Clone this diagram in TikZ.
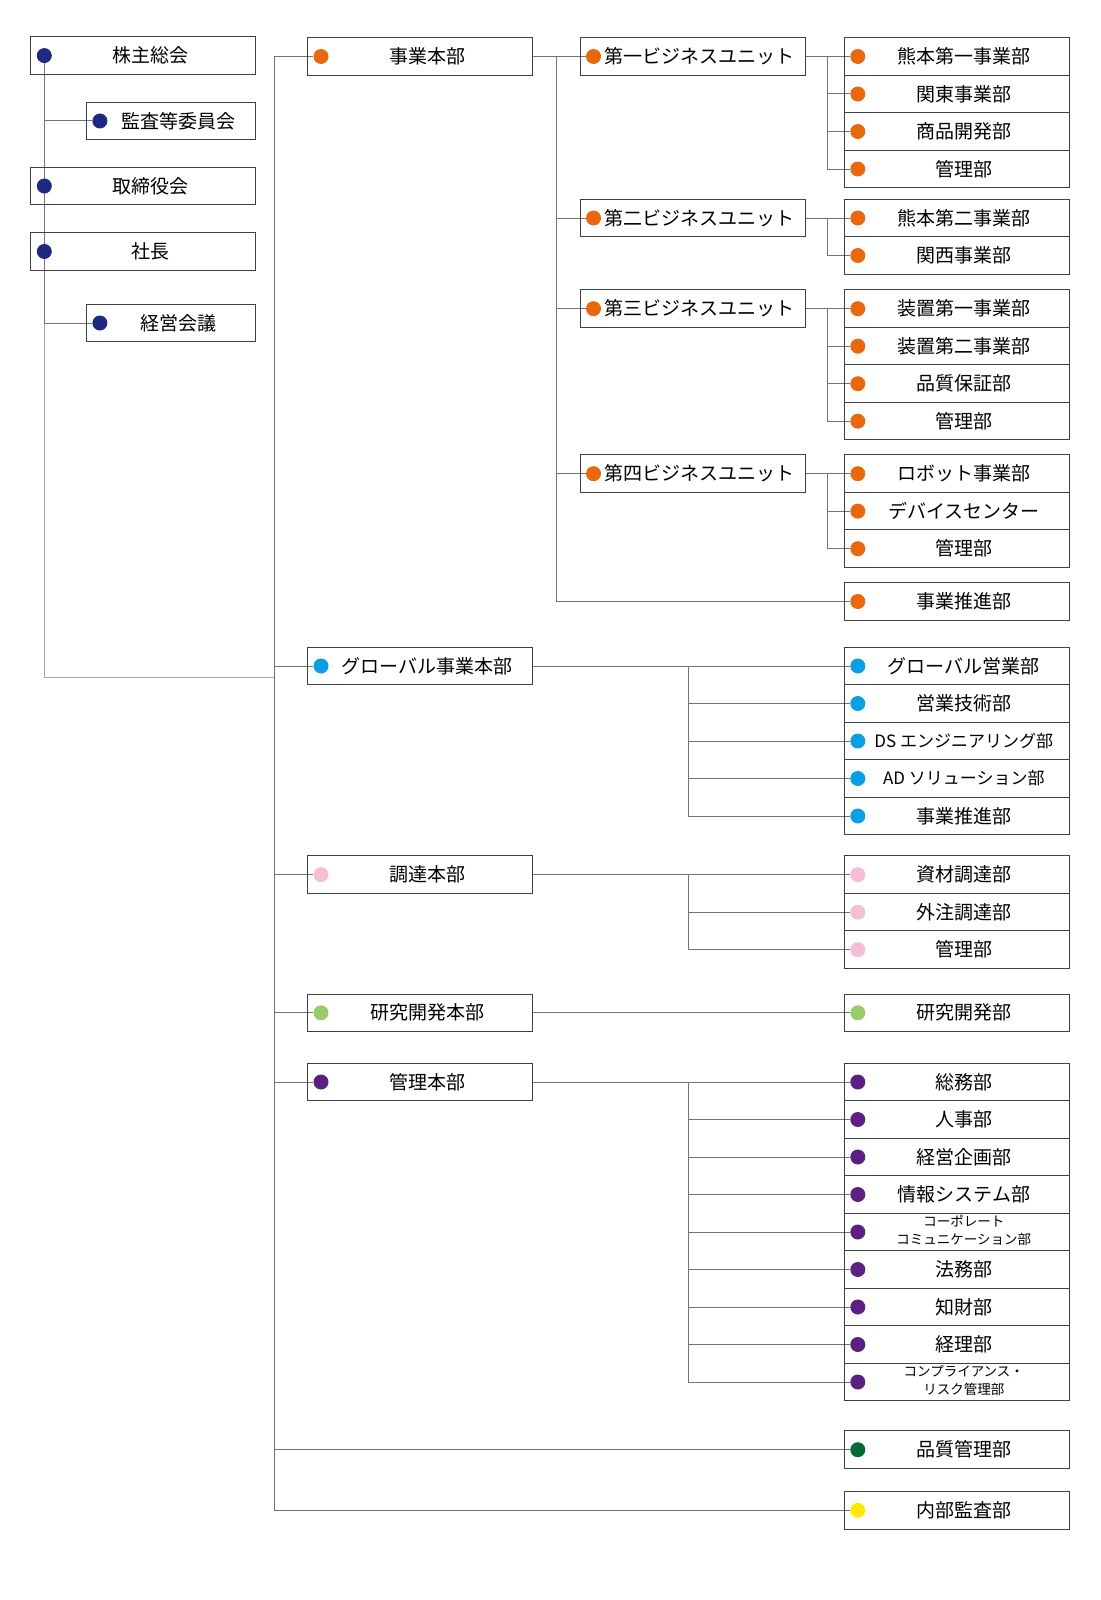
\documentclass[tikz,border=0pt]{standalone}
\usepackage{fontspec}
\setmainfont{Noto Sans CJK JP}
\usetikzlibrary{positioning, backgrounds}

\definecolor{navydot}{HTML}{1E2A82}
\definecolor{orangedot}{HTML}{E8690D}
\definecolor{bluedot}{HTML}{0A9FE2}
\definecolor{pinkdot}{HTML}{F6BDD6}
\definecolor{lightgreendot}{HTML}{9ACA6B}
\definecolor{purpledot}{HTML}{5C1F82}
\definecolor{darkgreendot}{HTML}{006B39}
\definecolor{yellowdot}{HTML}{FFE900}

\begin{document}
\begin{tikzpicture}[x = 1pt, y = -1pt,
  dept/.style = {draw = black!75, line width = 1pt, minimum width = 225pt, minimum height = 37.5pt,
    inner sep = 0pt, outer sep = 0pt, font = \fontsize{19}{22}\selectfont, execute at begin node = {\hspace*{14pt}}},
  smalldept/.style = {dept, minimum width = 169pt},
  spot/.style = {circle, inner sep = 0pt, minimum size = 15pt},
  wire/.style = {draw = black!55, line width = 1pt}]

\useasboundingbox (0, 0) rectangle (1100, 1600);

% left column
\node [dept] (kabu) at (143.3, 55.6) {株主総会};
\node [spot, fill = navydot] (kabud) at ([xshift = 13.5pt]kabu.west) {};
\node [smalldept] (kansa) at (171.4, 121) {監査等委員会};
\node [spot, fill = navydot] (kansad) at ([xshift = 13pt]kansa.west) {};
\node [dept] (torishimari) at (143.3, 186) {取締役会};
\node [spot, fill = navydot] (torishimarid) at ([xshift = 13.5pt]torishimari.west) {};
\node [dept] (shacho) at (143.3, 251.5) {社長};
\node [spot, fill = navydot] (shachod) at ([xshift = 13.5pt]shacho.west) {};
\node [smalldept] (keiei) at (171.4, 323) {経営会議};
\node [spot, fill = navydot] (keieid) at ([xshift = 13pt]keiei.west) {};

% headquarters
\node [dept] (jigyo) at (420, 56.5) {事業本部};
\node [spot, fill = orangedot] (jigyod) at ([xshift = 13.5pt]jigyo.west) {};
\node [dept] (global) at (420, 666) {グローバル事業本部};
\node [spot, fill = bluedot] (globald) at ([xshift = 13.5pt]global.west) {};
\node [dept] (chotatsu) at (420, 874.7) {調達本部};
\node [spot, fill = pinkdot] (chotatsud) at ([xshift = 13.5pt]chotatsu.west) {};
\node [dept] (kaihatsu) at (420, 1012.8) {研究開発本部};
\node [spot, fill = lightgreendot] (kaihatsud) at ([xshift = 13.5pt]kaihatsu.west) {};
\node [dept] (kanrihq) at (420, 1082) {管理本部};
\node [spot, fill = purpledot] (kanrihqd) at ([xshift = 13.5pt]kanrihq.west) {};

% business units
\node [dept] (bu1) at (692.5, 56.5) {第一ビジネスユニット};
\node [spot, fill = orangedot] (bu1d) at ([xshift = 13.5pt]bu1.west) {};
\node [dept] (bu2) at (692.5, 218) {第二ビジネスユニット};
\node [spot, fill = orangedot] (bu2d) at ([xshift = 13.5pt]bu2.west) {};
\node [dept] (bu3) at (692.5, 308.7) {第三ビジネスユニット};
\node [spot, fill = orangedot] (bu3d) at ([xshift = 13.5pt]bu3.west) {};
\node [dept] (bu4) at (692.5, 473.7) {第四ビジネスユニット};
\node [spot, fill = orangedot] (bu4d) at ([xshift = 13.5pt]bu4.west) {};

% right column
\node [dept] (kuma1) at (956.8, 56.5) {熊本第一事業部};
\node [dept, below = 0pt of kuma1] (kanto) {関東事業部};
\node [dept, below = 0pt of kanto] (shohin) {商品開発部};
\node [dept, below = 0pt of shohin] (kanri1) {管理部};
\node [dept] (kuma2) at (956.8, 218) {熊本第二事業部};
\node [dept, below = 0pt of kuma2] (kansai) {関西事業部};
\node [dept] (souchi1) at (956.8, 308.7) {装置第一事業部};
\node [dept, below = 0pt of souchi1] (souchi2) {装置第二事業部};
\node [dept, below = 0pt of souchi2] (hinsho) {品質保証部};
\node [dept, below = 0pt of hinsho] (kanri3) {管理部};
\node [dept] (robot) at (956.8, 473.7) {ロボット事業部};
\node [dept, below = 0pt of robot] (device) {デバイスセンター};
\node [dept, below = 0pt of device] (kanri4) {管理部};
\node [dept] (suishin) at (956.8, 601.5) {事業推進部};
\foreach \d in {kuma1, kanto, shohin, kanri1, kuma2, kansai, souchi1, souchi2, hinsho, kanri3, robot, device, kanri4, suishin}
  \node [spot, fill = orangedot] (\d d) at ([xshift = 13.5pt]\d.west) {};

\node [dept] (gsales) at (956.8, 666) {グローバル営業部};
\node [dept, below = 0pt of gsales] (gtech) {営業技術部};
\node [dept, below = 0pt of gtech, font = \fontsize{17}{20}\selectfont] (dseng) {DS エンジニアリング部};
\node [dept, below = 0pt of dseng, font = \fontsize{17}{20}\selectfont] (adsol) {AD ソリューション部};
\node [dept, below = 0pt of adsol] (gsuishin) {事業推進部};
\foreach \d in {gsales, gtech, dseng, adsol, gsuishin}
  \node [spot, fill = bluedot] (\d d) at ([xshift = 13.5pt]\d.west) {};

\node [dept] (shizai) at (956.8, 874.7) {資材調達部};
\node [dept, below = 0pt of shizai] (gaichu) {外注調達部};
\node [dept, below = 0pt of gaichu] (kanric) {管理部};
\foreach \d in {shizai, gaichu, kanric}
  \node [spot, fill = pinkdot] (\d d) at ([xshift = 13.5pt]\d.west) {};

\node [dept] (kenkyu) at (956.8, 1012.8) {研究開発部};
\node [spot, fill = lightgreendot] (kenkyud) at ([xshift = 13.5pt]kenkyu.west) {};

\node [dept] (somu) at (956.8, 1082) {総務部};
\node [dept, below = 0pt of somu] (jinji) {人事部};
\node [dept, below = 0pt of jinji] (keikaku) {経営企画部};
\node [dept, below = 0pt of keikaku] (joho) {情報システム部};
\node [dept, below = 0pt of joho, font = \fontsize{13.5}{18.4}\selectfont] (corp)
  {\begin{tabular}{@{}c@{}}コーポレート\\コミュニケーション部\end{tabular}};
\node [dept, below = 0pt of corp] (homu) {法務部};
\node [dept, below = 0pt of homu] (chizai) {知財部};
\node [dept, below = 0pt of chizai] (keiri) {経理部};
\node [dept, below = 0pt of keiri, font = \fontsize{13.5}{18.4}\selectfont] (comp)
  {\begin{tabular}{@{}c@{}}コンプライアンス・\\リスク管理部\end{tabular}};
\foreach \d in {somu, jinji, keikaku, joho, corp, homu, chizai, keiri, comp}
  \node [spot, fill = purpledot] (\d d) at ([xshift = 13.5pt]\d.west) {};

\node [dept] (hinkan) at (956.8, 1449.7) {品質管理部};
\node [spot, fill = darkgreendot] (hinkand) at ([xshift = 13.5pt]hinkan.west) {};
\node [dept] (naibu) at (956.8, 1510.3) {内部監査部};
\node [spot, fill = yellowdot] (naibud) at ([xshift = 13.5pt]naibu.west) {};

% forks
\coordinate (join) at (274.5, 677.7);
\coordinate (trunk) at (274.5, 56.5);
\coordinate (bufork) at (556, 56.5);
\coordinate (fork1) at (827.5, 56.5);
\coordinate (fork2) at (827.5, 218);
\coordinate (fork3) at (827.5, 308.7);
\coordinate (fork4) at (827.5, 473.7);
\coordinate (gfork) at (688.5, 666);
\coordinate (cfork) at (688.5, 874.7);
\coordinate (kfork) at (688.5, 1082);

\begin{scope}[on background layer]
\path [wire, draw = black!35, line width = 1.4pt] (kabud) |- (join);
\path [wire] (kabud) |- (kansad);
\path [wire] (kabud) |- (keieid);

\path [wire] (trunk) -- (jigyod);
\foreach \d in {globald, chotatsud, kaihatsud, kanrihqd, hinkand, naibud}
  \path [wire] (trunk) |- (\d);

\path [wire] (jigyo) -- (bu1d);
\foreach \d in {bu2d, bu3d, bu4d, suishind}
  \path [wire] (bufork) |- (\d);

\path [wire] (bu1) -- (kuma1d);
\foreach \d in {kantod, shohind, kanri1d}
  \path [wire] (fork1) |- (\d);
\path [wire] (bu2) -- (kuma2d);
\path [wire] (fork2) |- (kansaid);
\path [wire] (bu3) -- (souchi1d);
\foreach \d in {souchi2d, hinshod, kanri3d}
  \path [wire] (fork3) |- (\d);
\path [wire] (bu4) -- (robotd);
\foreach \d in {deviced, kanri4d}
  \path [wire] (fork4) |- (\d);

\path [wire] (global) -- (gsalesd);
\foreach \d in {gtechd, dsengd, adsold, gsuishind}
  \path [wire] (gfork) |- (\d);
\path [wire] (chotatsu) -- (shizaid);
\foreach \d in {gaichud, kanricd}
  \path [wire] (cfork) |- (\d);
\path [wire] (kaihatsu) -- (kenkyud);
\path [wire] (kanrihq) -- (somud);
\foreach \d in {jinjid, keikakud, johod, corpd, homud, chizaid, keirid, compd}
  \path [wire] (kfork) |- (\d);
\end{scope}
\end{tikzpicture}
\end{document}
